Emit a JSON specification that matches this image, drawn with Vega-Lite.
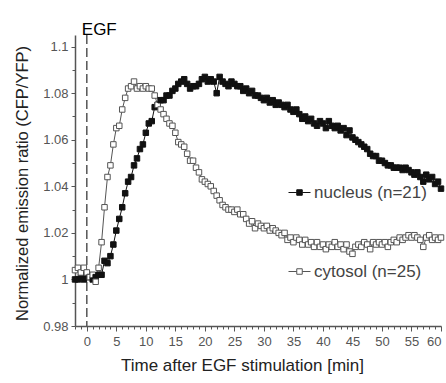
{
  "$schema": "https://vega.github.io/schema/vega-lite/v6.json",
  "autosize": {"type": "none"},
  "padding": {"left": 75, "top": 35, "right": 5, "bottom": 57},
  "width": 366,
  "height": 291,
  "config": {
    "view": {"stroke": null},
    "font": "Liberation Sans",
    "axis": {"domainColor": "#555", "domainWidth": 1.5, "tickColor": "#555", "grid": false, "labelFont": "Liberation Sans", "labelColor": "#555", "labelFontSize": 13, "titleFont": "Liberation Sans", "titleFontWeight": "normal", "titleColor": "#222", "titleFontSize": 16.5}
  },
  "data": {"values": [
    {"t":-2,"n":1.000,"c":1.004},{"t":-1.5,"n":1.000,"c":1.005},{"t":-1,"n":1.001,"c":1.003},{"t":-0.5,"n":1.000,"c":1.005},
    {"t":0,"n":1.002,"c":1.003},{"t":0.5,"n":1.001,"c":1.001},{"t":1,"n":1.000,"c":1.002},{"t":1.5,"n":1.001,"c":0.999},
    {"t":2,"n":1.002,"c":1.005},{"t":2.5,"n":1.002,"c":1.016},{"t":3,"n":1.008,"c":1.031},{"t":3.5,"n":1.007,"c":1.044},
    {"t":4,"n":1.010,"c":1.049},{"t":4.5,"n":1.015,"c":1.058},{"t":5,"n":1.021,"c":1.065},{"t":5.5,"n":1.026,"c":1.066},
    {"t":6,"n":1.031,"c":1.073},{"t":6.5,"n":1.037,"c":1.078},{"t":7,"n":1.042,"c":1.082},{"t":7.5,"n":1.044,"c":1.083},
    {"t":8,"n":1.049,"c":1.085},{"t":8.5,"n":1.052,"c":1.082},{"t":9,"n":1.056,"c":1.083},{"t":9.5,"n":1.058,"c":1.082},
    {"t":10,"n":1.063,"c":1.083},{"t":10.5,"n":1.067,"c":1.082},{"t":11,"n":1.068,"c":1.082},{"t":11.5,"n":1.074,"c":1.079},
    {"t":12,"n":1.075,"c":1.075},{"t":12.5,"n":1.077,"c":1.073},{"t":13,"n":1.077,"c":1.071},{"t":13.5,"n":1.079,"c":1.069},
    {"t":14,"n":1.079,"c":1.067},{"t":14.5,"n":1.081,"c":1.066},{"t":15,"n":1.082,"c":1.063},{"t":15.5,"n":1.084,"c":1.059},
    {"t":16,"n":1.085,"c":1.058},{"t":16.5,"n":1.086,"c":1.057},{"t":17,"n":1.084,"c":1.054},{"t":17.5,"n":1.082,"c":1.051},
    {"t":18,"n":1.083,"c":1.051},{"t":18.5,"n":1.083,"c":1.048},{"t":19,"n":1.084,"c":1.046},{"t":19.5,"n":1.086,"c":1.043},
    {"t":20,"n":1.087,"c":1.042},{"t":20.5,"n":1.085,"c":1.041},{"t":21,"n":1.086,"c":1.040},{"t":21.5,"n":1.085,"c":1.038},
    {"t":22,"n":1.080,"c":1.036},{"t":22.5,"n":1.087,"c":1.034},{"t":23,"n":1.085,"c":1.032},{"t":23.5,"n":1.084,"c":1.031},
    {"t":24,"n":1.083,"c":1.030},{"t":24.5,"n":1.085,"c":1.030},{"t":25,"n":1.084,"c":1.029},{"t":25.5,"n":1.083,"c":1.030},
    {"t":26,"n":1.083,"c":1.028},{"t":26.5,"n":1.081,"c":1.028},{"t":27,"n":1.082,"c":1.026},{"t":27.5,"n":1.080,"c":1.024},
    {"t":28,"n":1.081,"c":1.025},{"t":28.5,"n":1.079,"c":1.022},{"t":29,"n":1.079,"c":1.024},{"t":29.5,"n":1.078,"c":1.023},
    {"t":30,"n":1.077,"c":1.022},{"t":30.5,"n":1.078,"c":1.023},{"t":31,"n":1.076,"c":1.021},{"t":31.5,"n":1.077,"c":1.022},
    {"t":32,"n":1.075,"c":1.021},{"t":32.5,"n":1.076,"c":1.020},{"t":33,"n":1.075,"c":1.019},{"t":33.5,"n":1.074,"c":1.020},
    {"t":34,"n":1.075,"c":1.017},{"t":34.5,"n":1.073,"c":1.018},{"t":35,"n":1.072,"c":1.016},{"t":35.5,"n":1.073,"c":1.018},
    {"t":36,"n":1.071,"c":1.017},{"t":36.5,"n":1.069,"c":1.015},{"t":37,"n":1.070,"c":1.017},{"t":37.5,"n":1.068,"c":1.015},
    {"t":38,"n":1.069,"c":1.016},{"t":38.5,"n":1.067,"c":1.014},{"t":39,"n":1.066,"c":1.016},{"t":39.5,"n":1.068,"c":1.014},
    {"t":40,"n":1.067,"c":1.015},{"t":40.5,"n":1.065,"c":1.013},{"t":41,"n":1.068,"c":1.015},{"t":41.5,"n":1.066,"c":1.014},
    {"t":42,"n":1.065,"c":1.016},{"t":42.5,"n":1.066,"c":1.014},{"t":43,"n":1.064,"c":1.015},{"t":43.5,"n":1.065,"c":1.013},
    {"t":44,"n":1.062,"c":1.015},{"t":44.5,"n":1.064,"c":1.012},{"t":45,"n":1.061,"c":1.011},{"t":45.5,"n":1.060,"c":1.014},
    {"t":46,"n":1.059,"c":1.015},{"t":46.5,"n":1.058,"c":1.014},{"t":47,"n":1.057,"c":1.016},{"t":47.5,"n":1.056,"c":1.015},
    {"t":48,"n":1.054,"c":1.013},{"t":48.5,"n":1.053,"c":1.016},{"t":49,"n":1.053,"c":1.015},{"t":49.5,"n":1.051,"c":1.016},
    {"t":50,"n":1.051,"c":1.015},{"t":50.5,"n":1.050,"c":1.016},{"t":51,"n":1.049,"c":1.014},{"t":51.5,"n":1.049,"c":1.016},
    {"t":52,"n":1.048,"c":1.017},{"t":52.5,"n":1.048,"c":1.016},{"t":53,"n":1.048,"c":1.018},{"t":53.5,"n":1.047,"c":1.017},
    {"t":54,"n":1.048,"c":1.018},{"t":54.5,"n":1.047,"c":1.019},{"t":55,"n":1.046,"c":1.018},{"t":55.5,"n":1.045,"c":1.019},
    {"t":56,"n":1.046,"c":1.018},{"t":56.5,"n":1.044,"c":1.017},{"t":57,"n":1.042,"c":1.014},{"t":57.5,"n":1.045,"c":1.018},
    {"t":58,"n":1.043,"c":1.019},{"t":58.5,"n":1.044,"c":1.017},{"t":59,"n":1.041,"c":1.018},{"t":59.5,"n":1.042,"c":1.017},
    {"t":60,"n":1.039,"c":1.018}
  ]},
  "resolve": {"axis": {"x": "independent", "y": "independent"}},
  "layer": [
    {
      "data": {"values": [{"t": 0}]},
      "mark": {"type": "rule", "color": "#555", "strokeWidth": 1.5, "strokeDash": [9, 4]},
      "encoding": {
        "x": {"field": "t", "type": "quantitative", "scale": {"domain": [-2, 60], "nice": false}, "axis": null}
      }
    },
    {
      "data": {"values": [{"t": 0, "v": 1.107, "label": "EGF"}]},
      "mark": {"type": "text", "align": "left", "baseline": "middle", "dx": -5, "font": "Liberation Sans", "fontSize": 17, "color": "#000", "clip": false},
      "encoding": {
        "x": {"field": "t", "type": "quantitative", "axis": null},
        "y": {"field": "v", "type": "quantitative", "axis": null},
        "text": {"field": "label"}
      }
    },
    {
      "transform": [{"fold": ["n", "c"], "as": ["s", "v"]}],
      "mark": {"type": "line", "strokeWidth": 1},
      "encoding": {
        "x": {"field": "t", "type": "quantitative", "scale": {"domain": [-2, 60], "nice": false, "zero": false},
              "axis": {"orient": "bottom", "values": [0,5,10,15,20,25,30,35,40,45,50,55,60], "tickSize": 5, "labelPadding": 4, "title": "Time after EGF stimulation [min]", "titlePadding": 9, "titleFontSize": 17, "titleX": 167}},
        "y": {"field": "v", "type": "quantitative", "scale": {"domain": [0.98, 1.105], "nice": false, "zero": false},
              "axis": {"orient": "left", "values": [0.98,1,1.02,1.04,1.06,1.08,1.1], "format": ".2~f", "tickSize": 4, "labelPadding": 3, "title": "Normalized emission ratio (CFP/YFP)", "titlePadding": 12, "titleY": 148}},
        "stroke": {"field": "s", "type": "nominal", "scale": {"domain": ["n", "c"], "range": ["#111", "#555"]}}
      }
    },
    {
      "transform": [{"fold": ["n", "c"], "as": ["s", "v"]}],
      "mark": {"type": "point", "shape": "square", "filled": true, "size": 30, "strokeWidth": 1, "opacity": 1},
      "encoding": {
        "x": {"field": "t", "type": "quantitative", "scale": {"domain": [-2, 60], "nice": false, "zero": false},
              "axis": {"orient": "bottom", "values": [-2,-1,0,1,2,3,4,6,7,8,9,11,12,13,14,16,17,18,19,21,22,23,24,26,27,28,29,31,32,33,34,36,37,38,39,41,42,43,44,46,47,48,49,51,52,53,54,56,57,58,59], "tickSize": 3, "labels": false, "domain": false, "title": null}},
        "y": {"field": "v", "type": "quantitative", "scale": {"domain": [0.98, 1.105], "nice": false, "zero": false},
              "axis": {"orient": "left", "values": [0.99,1.01,1.03,1.05,1.07,1.09], "tickSize": 3, "labels": false, "domain": false, "title": null}},
        "fill": {"field": "s", "type": "nominal", "scale": {"domain": ["n", "c"], "range": ["#111", "#ffffff"]},
                 "legend": {"orient": "none", "legendX": 213, "legendY": 146, "title": null, "direction": "vertical",
                            "symbolType": "M-1,0H-0.25M0.25,0H1M-0.25,-0.25H0.25V0.25H-0.25Z", "symbolSize": 484,
                            "symbolStrokeWidth": 1, "rowPadding": 59, "labelOffset": 3,
                            "labelFont": "Liberation Sans", "labelFontSize": 17, "labelColor": "#444",
                            "labelExpr": "datum.label == 'n' ? 'nucleus (n=21)' : 'cytosol (n=25)'"}},
        "stroke": {"field": "s", "type": "nominal", "scale": {"domain": ["n", "c"], "range": ["#111", "#555"]}}
      }
    }
  ]
}
